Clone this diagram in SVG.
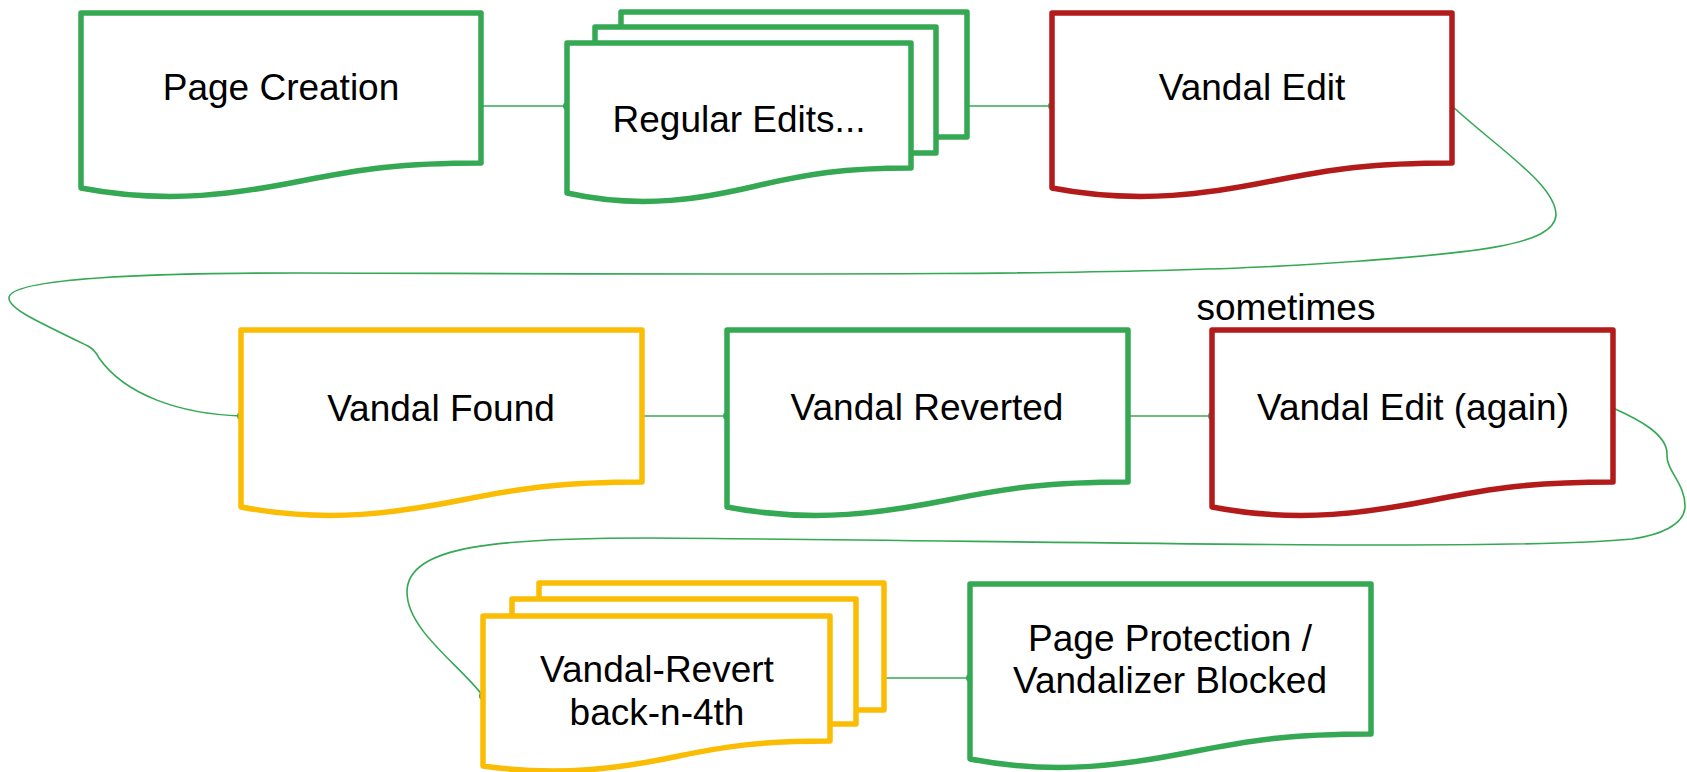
<svg xmlns="http://www.w3.org/2000/svg" width="1687" height="772" viewBox="0 0 1687 772">
<style>
.node{fill:#fff;stroke-width:5.5;stroke-linejoin:round}
.g{stroke:#34a853}
.r{stroke:#b31b1b}
.y{stroke:#fbbc04}
.lbl{font-family:"Liberation Sans",Arial,sans-serif;font-size:37px;fill:#000;text-anchor:middle}
.conn{fill:none;stroke:#34a853;stroke-width:1.6}
.dot{fill:#34a853}
</style>
<rect width="1687" height="772" fill="#fff"/>
<g id="connectors">
<path class="conn" d="M481,106 H567"/>
<circle class="dot" cx="567" cy="106" r="4"/>
<path class="conn" d="M967,106 H1052"/>
<circle class="dot" cx="1052" cy="106" r="4"/>
<path class="conn" d="M1452,106 C1500,150 1556,185 1556,215 C1554,245 1480,254 1300,265 C1100,277 700,274 300,273 C150,273 9,278 9,298 C9,308 30,318 88,346 Q95,350 99,358 C125,395 180,414 241,416"/>
<circle class="dot" cx="241" cy="416" r="4"/>
<path class="conn" d="M642,416 H727"/>
<circle class="dot" cx="727" cy="416" r="4"/>
<path class="conn" d="M1128,416 H1212"/>
<circle class="dot" cx="1212" cy="416" r="4"/>
<path class="conn" d="M1613,408 C1640,420 1668,435 1667,455 C1666,470 1686,485 1685,507 C1684,525 1660,535 1632,539 C1500,552 1000,540 650,538 C500,538 407,545 407,592 C407,630 460,665 483,696"/>
<circle class="dot" cx="483" cy="696" r="4"/>
<path class="conn" d="M884,678 H970"/>
<circle class="dot" cx="970" cy="678" r="4"/>
</g>
<g id="page-creation">
<path class="node g" d="M81,13 H481 V163 C401,163 361,169 301,181 C241,193 169,205 81,188 Z"/>
<text class="lbl" x="281" y="100">Page Creation</text>
</g>
<g id="regular-edits">
<path class="node g" d="M621,12 H967 V137 H621 Z"/>
<path class="node g" d="M595,27 H936 V153 H595 Z"/>
<path class="node g" d="M567,43 H911 V168 C842,168 808,174 756,186 C705,198 643,210 567,193 Z"/>
<text class="lbl" x="739" y="132">Regular Edits...</text>
</g>
<g id="vandal-edit">
<path class="node r" d="M1052,13 H1452 V163 C1372,163 1332,169 1272,181 C1212,193 1140,205 1052,188 Z"/>
<text class="lbl" x="1252" y="100">Vandal Edit</text>
</g>
<g id="vandal-found">
<path class="node y" d="M241,330 H642 V482 C562,482 522,488 462,500 C401,512 329,524 241,507 Z"/>
<text class="lbl" x="441" y="421">Vandal Found</text>
</g>
<g id="vandal-reverted">
<path class="node g" d="M727,330 H1128 V482 C1048,482 1008,488 948,500 C887,512 815,524 727,507 Z"/>
<text class="lbl" x="927" y="420">Vandal Reverted</text>
</g>
<g id="vandal-edit-again">
<path class="node r" d="M1212,330 H1613 V482 C1533,482 1493,488 1433,500 C1372,512 1300,524 1212,507 Z"/>
<text class="lbl" x="1413" y="420">Vandal Edit (again)</text>
</g>
<g id="sometimes-label">
<text class="lbl" x="1286" y="320">sometimes</text>
</g>
<g id="vandal-revert-back-n-4th">
<path class="node y" d="M539,583 H884 V710 H539 Z"/>
<path class="node y" d="M512,599 H856 V724 H512 Z"/>
<path class="node y" d="M483,616 H830 V741 C761,741 726,746 674,757 C622,768 560,777 483,766 Z"/>
<text class="lbl" x="657" y="682">Vandal-Revert</text>
<text class="lbl" x="657" y="725">back-n-4th</text>
</g>
<g id="page-protection">
<path class="node g" d="M970,584 H1371 V734 C1291,734 1251,740 1191,752 C1130,764 1058,776 970,759 Z"/>
<text class="lbl" x="1170" y="651">Page Protection /</text>
<text class="lbl" x="1170" y="693">Vandalizer Blocked</text>
</g>
</svg>
